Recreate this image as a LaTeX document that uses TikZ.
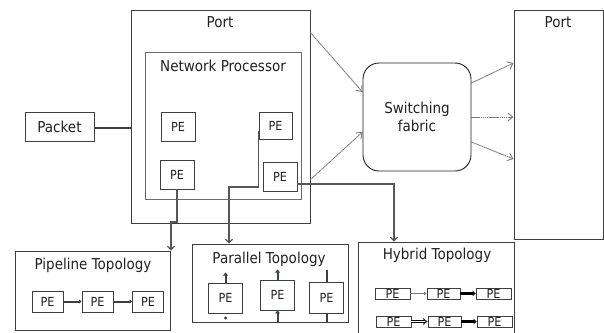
\documentclass[tikz,border=0pt]{standalone}
\usepackage{fontspec}
\setmainfont[FakeStretch=0.9]{DejaVu Sans}
\usetikzlibrary{arrows.meta,calc}
\definecolor{ink}{HTML}{202020}
\definecolor{edge}{HTML}{3F3F3F}
\definecolor{softedge}{HTML}{6A6A6A}
\definecolor{wire}{HTML}{575757}
\definecolor{faint}{HTML}{7A7A7A}
\definecolor{stub}{HTML}{3A4456}

\tikzset{
  frame/.style={draw=edge, line width=0.9pt, inner sep=0pt},
  sz/.style 2 args={minimum width=#1pt, minimum height=#2pt},
  title/.style={font=\fontsize{15}{18}\selectfont, text=ink, inner sep=0pt},
  petext/.style={font=\fontsize{12.5}{14}\selectfont, text=ink},
  wire/.style={draw=wire, line width=1.2pt, -{Straight Barb[length=3.5pt,width=7pt]}},
  feed/.style={draw=faint, line width=0.9pt, dash pattern=on 1.4pt off 0.5pt, -{Straight Barb[length=5pt,width=8pt]}},
  chain/.style={draw=edge, line width=2pt, -{Triangle[length=2.5pt,width=4pt]}},
  stubarrow/.style={draw=stub, line width=2pt, -{Triangle[length=3pt,width=5pt]}},
  stubline/.style={draw=edge, line width=2pt},
  thinlink/.style={draw=faint, line width=0.9pt, -{Triangle[length=2.5pt,width=3.5pt]}},
  boldlink/.style={draw=black, line width=2.6pt, -{Triangle[length=3pt,width=5.5pt]}},
  hollowlink/.style={draw=black, line width=0.8pt, double=white, double distance=1.4pt, -{Implies}},
}

\begin{document}
\begin{tikzpicture}[x=1pt, y=-1pt]
  \useasboundingbox (0,0) rectangle (604,332);
  \clip (0,0) rectangle (604,332);

  % ---- left port with its network processor ----
  \node[frame, sz={179}{213}] (portL) at (220.5,116.5) {};
  \node[title] (portLt) at (220,22) {Port};
  \node[frame, draw=softedge, sz={156}{147}] (np) at (223,125.5) {};
  \node[title] (npt) at (223,66) {Network Processor};
  \node[frame, petext, sz={34}{29}] (pea) at (178,126.5) {PE};
  \node[frame, petext, sz={33}{27}] (peb) at (275.5,125.5) {PE};
  \node[frame, petext, sz={34}{29}] (pec) at (177,174.5) {PE};
  \node[frame, petext, sz={34}{29}] (ped) at (280,176.5) {PE};

  % ---- incoming packet ----
  \node[frame, title, sz={69}{29}] (packet) at (59.5,126.5) {Packet};
  \draw[draw=edge, line width=2.2pt] ([yshift=-1.5pt]packet.east) -- ([yshift=-1.5pt]packet.east -| portL.west);

  % ---- switching fabric and output port ----
  \node[frame, draw=ink, rounded corners=16pt, sz={108}{108}, title, align=center] (swf) at (417,117) {Switching\\fabric};
  \node[frame, sz={89}{229}] (portR) at (558.5,124.5) {};
  \node[title] (portRt) at (558,22) {Port};

  \coordinate (out1) at ($(portL.north east)+(0,23)$);
  \coordinate (out2) at ($(portL.north east)+(0,170)$);
  \draw[feed] (out1) -- ([yshift=25pt]swf.west);
  \draw[feed] (out2) -- ([yshift=-15pt]swf.west);
  \draw[feed] ([yshift=34pt]swf.east) -- ([yshift=61.5pt]portR.west);
  \draw[feed] (swf.east) -- (swf.east -| portR.west);
  \draw[feed] ([yshift=-25pt]swf.east) -- ([yshift=-34.5pt]portR.west);

  % ---- pipeline topology ----
  \node[frame, sz={155}{79}] (pipe) at (92.5,290.5) {};
  \node[title] (pipet) at (93,265) {Pipeline Topology};
  \node[frame, petext, sz={31}{21}] (pp1) at (47.5,301.5) {PE};
  \node[frame, petext, sz={31}{21}] (pp2) at (97.5,301.5) {PE};
  \node[frame, petext, sz={31}{21}] (pp3) at (148,301.5) {PE};
  \draw[chain] (pp1) -- (pp2);
  \draw[chain] (pp2) -- (pp3);

  % ---- parallel topology ----
  \node[frame, sz={156}{78}] (par) at (270,283) {};
  \node[title] (part) at (269,259) {Parallel Topology};
  \node[frame, petext, sz={34}{30}] (pq1) at (225.5,298) {PE};
  \node[frame, petext, sz={34}{30}] (pq2) at (277.5,295) {PE};
  \node[frame, petext, sz={34}{31}] (pq3) at (326.5,297.5) {PE};
  \draw[stubarrow, draw=edge] (pq1.north) -- ++(0,-10);
  \fill[edge] ([yshift=-4.5pt]pq1.south) circle (1.7pt);
  \draw[stubarrow] (pq2.north) -- ++(0,-10);
  \draw[stubarrow] ([yshift=-12pt]pq2.south) -- (pq2.south);
  \draw[stubline] (pq3.north) -- ++(0,-12);
  \draw[stubline] (pq3.south) -- ++(0,10);

  % ---- hybrid topology ----
  \node[frame, sz={156}{98}] (hyb) at (436,291) {};
  \node[title] (hybt) at (437,255) {Hybrid Topology};
  \node[frame, petext, sz={35}{11}] (hh1) at (392.5,293.5) {PE};
  \node[frame, petext, sz={33}{11}] (hh2) at (443.5,293.5) {PE};
  \node[frame, petext, sz={35}{11}] (hh3) at (493.5,293.5) {PE};
  \node[frame, petext, sz={35}{11}] (hh4) at (393.5,321.5) {PE};
  \node[frame, petext, sz={33}{11}] (hh5) at (444.5,321.5) {PE};
  \node[frame, petext, sz={35}{11}] (hh6) at (494.5,321.5) {PE};
  \draw[thinlink] (hh1) -- (hh2);
  \draw[boldlink] (hh2) -- (hh3);
  \draw[hollowlink] (hh4) -- (hh5);
  \draw[boldlink] (hh5) -- (hh6);

  % ---- processing elements mapped to topologies ----
  \coordinate (j1) at (171,222);
  \draw[wire] (pec.south) |- (j1) -- (j1 |- pipe.north);
  \coordinate (j2) at (229,187);
  \draw[wire] ([yshift=-5.5pt]peb.west) |- (j2) -- (j2 |- par.north);
  \coordinate (j3) at (394,184);
  \draw[wire] ([yshift=-7.5pt]ped.east) -- (j3) -- (j3 |- hyb.north);
\end{tikzpicture}
\end{document}
